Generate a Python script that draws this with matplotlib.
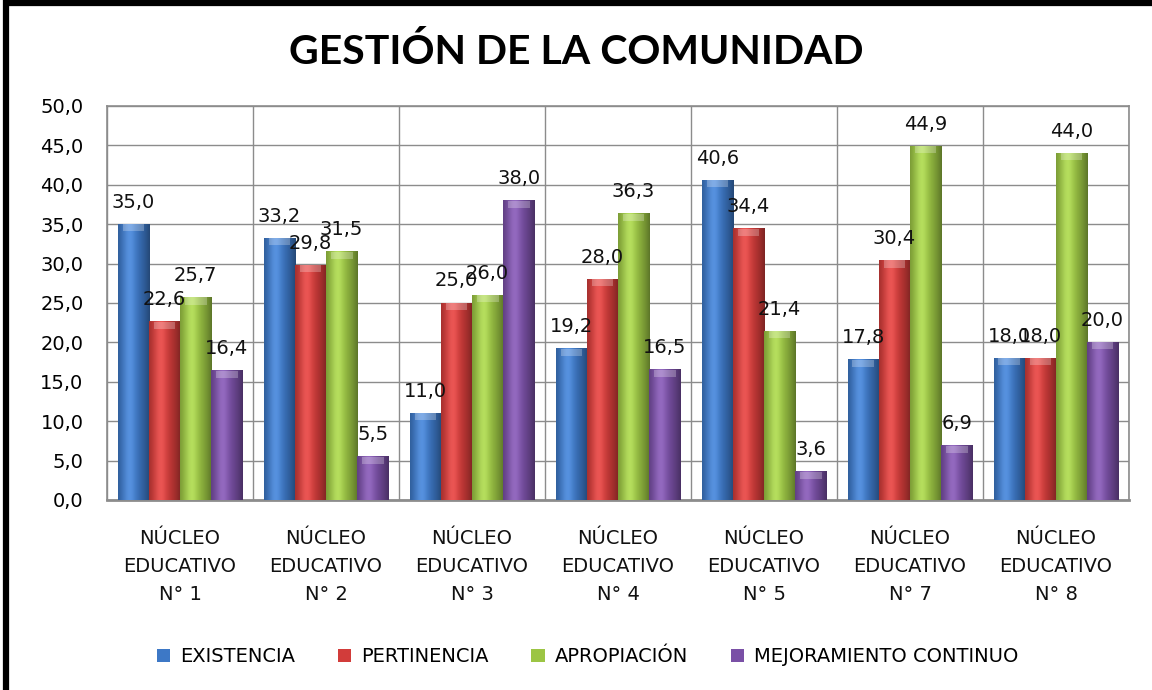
import matplotlib
matplotlib.use('Agg')
import matplotlib.pyplot as plt
import matplotlib.colors as mcolors
from matplotlib.patches import Rectangle
import numpy as np

plt.rc('font', family='DejaVu Sans')

categories = ['NÚCLEO\nEDUCATIVO\nN° 1', 'NÚCLEO\nEDUCATIVO\nN° 2', 'NÚCLEO\nEDUCATIVO\nN° 3',
              'NÚCLEO\nEDUCATIVO\nN° 4', 'NÚCLEO\nEDUCATIVO\nN° 5', 'NÚCLEO\nEDUCATIVO\nN° 7',
              'NÚCLEO\nEDUCATIVO\nN° 8']
series_names = ['EXISTENCIA', 'PERTINENCIA', 'APROPIACIÓN', 'MEJORAMIENTO CONTINUO']
existencia = [35.0, 33.2, 11.0, 19.2, 40.6, 17.8, 18.0]
pertinencia = [22.6, 29.8, 25.0, 28.0, 34.4, 30.4, 18.0]
apropiacion = [25.7, 31.5, 26.0, 36.3, 21.4, 44.9, 44.0]
mejoramiento = [16.4, 5.5, 38.0, 16.5, 3.6, 6.9, 20.0]
yticks = np.arange(0, 51, 5)

colors = ['#3d78c6', '#d23c3a', '#9cc544', '#7a50a6']
series = [existencia, pertinencia, apropiacion, mejoramiento]


def shade(color, n=40):
    # horizontal gradient: darker edges, light band slightly left of centre
    base = np.array(mcolors.to_rgb(color))
    t = np.linspace(0, 1, n)
    f = 1 - 0.5 * np.abs(t - 0.4) ** 1.6 * 1.8
    f = np.clip(f, 0.55, 1.0)
    light = 0.10 * np.exp(-((t - 0.35) / 0.2) ** 2)
    rgb = np.clip(base[None, :] * f[:, None] + light[:, None], 0, 1)
    return rgb[None, :, :]


fig = plt.figure(figsize=(11.52, 6.9), dpi=100)
ax = fig.add_axes([0.093, 0.2754, 0.887, 0.571])

x = np.arange(len(categories))
width = 0.213
for i, (vals, col) in enumerate(zip(series, colors)):
    offs = (i - 1.5) * width
    bars = ax.bar(x + offs, vals, width, color=col, edgecolor='none', zorder=2,
                  label=series_names[i])
    for b in bars:
        x0, w, h = b.get_x(), b.get_width(), b.get_height()
        ax.imshow(shade(col), extent=(x0, x0 + w, 0, h), aspect='auto',
                  zorder=3, interpolation='bilinear')
        # light bevel at the top of each bar
        cap = min(0.9, h * 0.5)
        ax.add_patch(Rectangle((x0 + w * 0.15, h - cap), w * 0.7, cap,
                               color='white', alpha=0.25, lw=0, zorder=4))
        ax.annotate(f'{h:.1f}'.replace('.', ','), (x0 + w / 2, h),
                    xytext=(0, 9), textcoords='offset points', ha='center',
                    va='bottom', fontsize=14, color='#111111', zorder=5)

ax.set_xlim(-0.5, len(categories) - 0.5)
ax.set_ylim(0, 50)
ax.set_yticks(yticks)
ax.set_yticklabels([f'{v:.1f}'.replace('.', ',') for v in yticks], fontsize=14)
ax.set_xticks(x)
ax.set_xticklabels(categories, fontsize=14, linespacing=1.6, color='#111111')
ax.set_xticks(np.arange(-0.5, len(categories), 1), minor=True)
ax.tick_params(axis='x', which='both', length=0, pad=21)
ax.tick_params(axis='y', length=0, pad=17)
ax.grid(axis='y', color='#8c8c8c', lw=1, zorder=0)
ax.grid(axis='x', which='minor', color='#8c8c8c', lw=1, zorder=0)
ax.grid(axis='x', which='major', visible=False)
for s in ax.spines.values():
    s.set_color('#8c8c8c')
    s.set_linewidth(1.2)
ax.spines['bottom'].set_linewidth(2)

fig.text(0.5, 0.924, 'GESTIÓN DE LA COMUNIDAD', ha='center', va='center',
         fontsize=29.5, fontweight='bold', family='Lato')

leg = ax.legend(loc='center', bbox_to_anchor=(0.51, 0.048), bbox_transform=fig.transFigure,
                ncol=4, frameon=False, fontsize=14, handlelength=0.7, handleheight=0.7,
                handletextpad=0.5, columnspacing=2.2)

fig.add_artist(Rectangle((0.0055, -0.1), 1.2, 1.096, transform=fig.transFigure,
                         fill=False, edgecolor='black', lw=4.5))

fig.savefig('out.png', dpi=100)
